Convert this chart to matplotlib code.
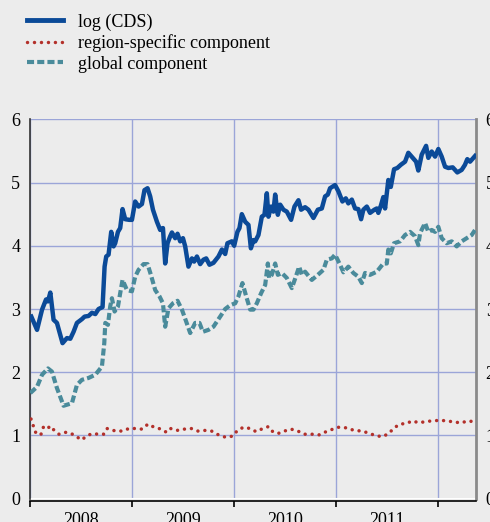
import numpy as np
import matplotlib
matplotlib.use("Agg")
import matplotlib.pyplot as plt
from matplotlib.lines import Line2D

# time axis as years after 1 Jan 2008
cds_t = [0.013, 0.069, 0.118, 0.157, 0.176, 0.199, 0.231, 0.264, 0.319, 0.362,
         0.395, 0.427, 0.460, 0.509, 0.535, 0.574, 0.607, 0.640, 0.672, 0.711,
         0.731, 0.747, 0.770, 0.796, 0.819, 0.835, 0.862, 0.884, 0.907, 0.933,
         0.973, 0.999, 1.031, 1.064, 1.097, 1.122, 1.152, 1.178, 1.205, 1.244,
         1.276, 1.303, 1.325, 1.348, 1.374, 1.391, 1.423, 1.446, 1.472, 1.499,
         1.521, 1.553, 1.587, 1.609, 1.636, 1.668, 1.700, 1.727, 1.759, 1.798,
         1.847, 1.881, 1.913, 1.935, 1.978, 2.001, 2.033, 2.053, 2.076, 2.109,
         2.141, 2.165, 2.190, 2.207, 2.239, 2.272, 2.298, 2.321, 2.337, 2.363,
         2.386, 2.403, 2.429, 2.452, 2.484, 2.517, 2.559, 2.592, 2.631, 2.657,
         2.696, 2.729, 2.778, 2.821, 2.860, 2.892, 2.919, 2.941, 2.990, 3.023,
         3.062, 3.095, 3.120, 3.154, 3.186, 3.218, 3.245, 3.267, 3.301, 3.333,
         3.375, 3.399, 3.414, 3.438, 3.463, 3.480, 3.512, 3.536, 3.568, 3.600,
         3.634, 3.676, 3.708, 3.741, 3.784, 3.806, 3.839, 3.882, 3.904, 3.937,
         3.970, 4.002, 4.035, 4.068, 4.100, 4.143, 4.188, 4.231, 4.263, 4.286,
         4.313, 4.345, 4.362]
cds_v = [2.88, 2.67, 2.99, 3.15, 3.12, 3.26, 2.83, 2.78, 2.46, 2.54,
         2.53, 2.64, 2.78, 2.84, 2.88, 2.89, 2.94, 2.92, 3.00, 3.03,
         3.67, 3.83, 3.86, 4.22, 3.99, 4.04, 4.22, 4.28, 4.58, 4.42,
         4.41, 4.41, 4.70, 4.62, 4.66, 4.88, 4.91, 4.78, 4.57, 4.38,
         4.25, 4.28, 3.72, 4.04, 4.15, 4.21, 4.12, 4.19, 4.07, 4.12,
         3.99, 3.67, 3.80, 3.75, 3.83, 3.71, 3.78, 3.80, 3.70, 3.73,
         3.83, 3.94, 3.87, 4.04, 4.07, 4.00, 4.22, 4.28, 4.50, 4.38,
         4.33, 3.96, 4.09, 4.07, 4.17, 4.46, 4.49, 4.83, 4.46, 4.62,
         4.54, 4.81, 4.49, 4.65, 4.57, 4.54, 4.41, 4.62, 4.72, 4.57,
         4.61, 4.57, 4.44, 4.57, 4.59, 4.78, 4.81, 4.91, 4.96, 4.86,
         4.70, 4.75, 4.67, 4.73, 4.59, 4.58, 4.42, 4.57, 4.62, 4.52,
         4.57, 4.59, 4.52, 4.63, 4.77, 4.59, 5.04, 4.93, 5.21, 5.23,
         5.28, 5.33, 5.47, 5.41, 5.33, 5.19, 5.44, 5.58, 5.39, 5.49,
         5.41, 5.53, 5.41, 5.25, 5.23, 5.24, 5.16, 5.20, 5.28, 5.37,
         5.33, 5.39, 5.42]

glob_t = [0.003, 0.069, 0.118, 0.176, 0.215, 0.264, 0.329, 0.411, 0.460, 0.509,
          0.574, 0.640, 0.705, 0.728, 0.738, 0.764, 0.786, 0.803, 0.829, 0.862,
          0.884, 0.907, 0.950, 0.999, 1.031, 1.064, 1.113, 1.152, 1.185, 1.227,
          1.269, 1.303, 1.325, 1.357, 1.401, 1.446, 1.489, 1.531, 1.570, 1.619,
          1.661, 1.694, 1.749, 1.798, 1.864, 1.913, 1.962, 2.011, 2.043, 2.082,
          2.119, 2.158, 2.190, 2.223, 2.265, 2.305, 2.331, 2.344, 2.370, 2.403,
          2.429, 2.468, 2.517, 2.566, 2.605, 2.638, 2.664, 2.696, 2.762, 2.821,
          2.876, 2.909, 2.958, 2.990, 3.039, 3.072, 3.120, 3.169, 3.218, 3.252,
          3.284, 3.333, 3.399, 3.463, 3.497, 3.512, 3.536, 3.568, 3.627, 3.676,
          3.725, 3.774, 3.806, 3.823, 3.872, 3.904, 3.937, 3.970, 4.002, 4.035,
          4.084, 4.133, 4.182, 4.231, 4.280, 4.329, 4.362]
glob_v = [1.67, 1.77, 1.96, 2.06, 2.01, 1.75, 1.47, 1.51, 1.80, 1.88,
          1.91, 1.96, 2.09, 2.46, 2.78, 2.75, 3.04, 3.17, 2.96, 3.04,
          3.25, 3.46, 3.30, 3.28, 3.51, 3.62, 3.71, 3.71, 3.54, 3.30,
          3.20, 3.09, 2.72, 3.01, 3.09, 3.13, 2.99, 2.80, 2.62, 2.78,
          2.78, 2.64, 2.67, 2.72, 2.88, 3.00, 3.06, 3.09, 3.20, 3.41,
          3.20, 2.99, 2.99, 3.09, 3.25, 3.38, 3.72, 3.49, 3.54, 3.72,
          3.54, 3.57, 3.49, 3.33, 3.51, 3.67, 3.54, 3.59, 3.46, 3.54,
          3.62, 3.78, 3.80, 3.86, 3.70, 3.58, 3.67, 3.57, 3.51, 3.41,
          3.57, 3.54, 3.59, 3.72, 3.72, 3.94, 3.88, 4.04, 4.07, 4.17,
          4.22, 4.15, 4.01, 4.20, 4.36, 4.22, 4.25, 4.22, 4.30, 4.12,
          4.04, 4.07, 3.99, 4.07, 4.12, 4.17, 4.25]

reg_t = [0.010, 0.035, 0.062, 0.108, 0.133, 0.172, 0.199, 0.225, 0.284, 0.343,
         0.395, 0.466, 0.509, 0.551, 0.610, 0.669, 0.721, 0.754, 0.803, 0.835,
         0.904, 0.970, 1.041, 1.100, 1.156, 1.217, 1.286, 1.338, 1.377, 1.440,
         1.511, 1.580, 1.645, 1.710, 1.779, 1.847, 1.920, 1.988, 2.033, 2.092,
         2.158, 2.216, 2.282, 2.337, 2.370, 2.429, 2.494, 2.559, 2.625, 2.690,
         2.762, 2.836, 2.902, 2.968, 3.026, 3.105, 3.176, 3.252, 3.316, 3.382,
         3.453, 3.516, 3.568, 3.627, 3.692, 3.744, 3.816, 3.875, 3.940, 4.019,
         4.090, 4.166, 4.231, 4.286, 4.345]
reg_v = [1.26, 1.14, 1.02, 1.02, 1.14, 1.11, 1.15, 1.10, 1.02, 1.05,
         1.04, 0.97, 0.93, 0.99, 1.03, 1.02, 1.02, 1.11, 1.09, 1.07,
         1.07, 1.11, 1.11, 1.10, 1.18, 1.13, 1.10, 1.05, 1.11, 1.08,
         1.10, 1.11, 1.07, 1.08, 1.07, 1.01, 0.97, 0.99, 1.08, 1.13,
         1.11, 1.06, 1.11, 1.14, 1.07, 1.03, 1.07, 1.10, 1.07, 1.02,
         1.02, 1.01, 1.06, 1.10, 1.13, 1.12, 1.08, 1.07, 1.04, 1.00,
         0.98, 1.03, 1.12, 1.18, 1.19, 1.23, 1.20, 1.22, 1.23, 1.24,
         1.23, 1.21, 1.20, 1.23, 1.22]

years = [2008, 2009, 2010, 2011]
labels = ["log (CDS)", "region-specific component", "global component"]

BG = "#ECECEC"
BLUE = "#0B4A98"
TEAL = "#4A8B9B"
RED = "#B3302A"
GRID = "#9BA5D8"

plt.rcParams["font.family"] = ["Liberation Serif", "DejaVu Serif"]

fig = plt.figure(figsize=(4.9, 5.22), dpi=100, facecolor=BG)
ax = fig.add_axes([30 / 490, 1 - 498.7 / 522, 446 / 490, 379.4 / 522])
ax.set_facecolor(BG)

t0 = 2008
dots = (0, (0.01, 2.0))
dashes = (0, (1.7, 0.75))
ax.plot(t0 + np.array(glob_t), glob_v, color=TEAL, lw=3.0,
        linestyle=dashes, dash_capstyle="butt", zorder=3)
ax.plot(t0 + np.array(reg_t), reg_v, color=RED, lw=2.5,
        linestyle=dots, dash_capstyle="round", zorder=3)
ax.plot(t0 + np.array(cds_t), cds_v, color=BLUE, lw=3.2, zorder=4,
        solid_joinstyle="round")

ax.set_xlim(2008 + 0.3 / 102.1, 2008 + 446.3 / 102.1)
ax.set_ylim(0, 6)

ax.set_yticks(range(0, 7))
ax.tick_params(axis="y", length=0, labelsize=13, pad=7,
               labelright=True, right=False)
ax.set_xticks(years + [2012])
ax.set_xticklabels([])
ax.set_xticks([y + 0.5 for y in years], minor=True)
ax.set_xticklabels([str(y) for y in years], minor=True)
ax.tick_params(axis="x", which="major", direction="out", length=4,
               width=1.2, color="black")
ax.tick_params(axis="x", which="minor", length=0, labelsize=13, pad=8)

ax.grid(True, color=GRID, lw=1.0)
ax.axhline(0, color="white", lw=1.5, zorder=2)

ax.spines["top"].set_visible(False)
ax.spines["left"].set_color("#333333")
ax.spines["left"].set_linewidth(1.2)
ax.spines["right"].set_color("#8A8A8A")
ax.spines["right"].set_linewidth(2.0)
ax.spines["bottom"].set_color("black")
ax.spines["bottom"].set_linewidth(1.2)
ax.spines["bottom"].set_position(("outward", 1.5))

handles = [
    Line2D([], [], color=BLUE, lw=3.5),
    Line2D([], [], color=RED, lw=2.5, linestyle=dots, dash_capstyle="round"),
    Line2D([], [], color=TEAL, lw=3.0, linestyle=dashes),
]
fig.legend(handles, labels, loc="upper left", frameon=False, fontsize=13,
           bbox_to_anchor=(20 / 490, 1 - 6 / 522), handlelength=2.0,
           handletextpad=0.8, labelspacing=0.2, borderaxespad=0)

fig.savefig("out.png", dpi=100, facecolor=BG)
